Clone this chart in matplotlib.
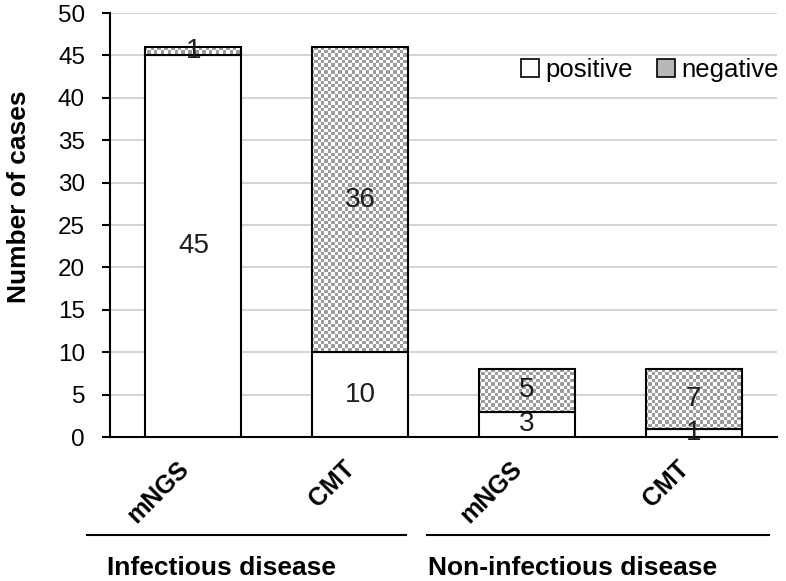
import numpy as np
import matplotlib
matplotlib.use("Agg")
import matplotlib.pyplot as plt
from matplotlib.patches import Patch
from matplotlib import transforms

# ---------------- data ----------------
categories = ["mNGS", "CMT", "mNGS", "CMT"]
positive = [45, 10, 3, 1]
negative = [1, 36, 5, 7]
groups = ["Infectious disease", "Non-infectious disease"]
yticks = list(range(0, 51, 5))

plt.rcParams["font.family"] = ["Liberation Sans", "DejaVu Sans"]
plt.rcParams["font.size"] = 13

fig = plt.figure(figsize=(7.86, 5.81), dpi=100)
ax = fig.add_axes([0.140, 0.2478, 0.8485, 0.7298])

x = np.arange(len(categories))
width = 0.576

ax.set_xlim(-0.5, 3.5)
ax.set_ylim(0, 50)

# grid
ax.set_yticks(yticks)
ax.yaxis.grid(True, color="#d4d4d4", lw=1.4)
ax.set_axisbelow(True)

bars_pos = ax.bar(x, positive, width, facecolor="white", edgecolor="black", lw=1.5, zorder=3)
bars_neg = ax.bar(x, negative, width, bottom=positive, facecolor="none",
                  edgecolor="black", lw=1.5, zorder=4)

# checkerboard fill for the negative segments
cell = 3.4  # pixels
ax_w_px = 0.8485 * 786
ax_h_px = 0.7298 * 581
nx = int(ax_w_px / cell)
ny = int(ax_h_px / cell)
board = (np.add.outer(np.arange(ny), np.arange(nx)) % 2).astype(float)
for b in bars_neg:
    im = ax.imshow(board, cmap="gray", vmin=-1.6, vmax=1.0, extent=(-0.5, 3.5, 0, 50),
                   aspect="auto", interpolation="nearest", zorder=3.5)
    im.set_clip_path(b)
ax.set_xlim(-0.5, 3.5)
ax.set_ylim(0, 50)
ax.set_aspect("auto")

# value labels
for i in range(len(categories)):
    ax.text(x[i], positive[i] / 2, str(positive[i]), ha="center", va="center",
            fontsize=20, color="#1e1e1e", zorder=6)
    ax.text(x[i], positive[i] + negative[i] / 2, str(negative[i]), ha="center",
            va="center", fontsize=20, color="#1e1e1e", zorder=6)

# axes styling
for s in ["top", "right"]:
    ax.spines[s].set_visible(False)
ax.spines["left"].set_linewidth(1.5)
ax.spines["bottom"].set_linewidth(1.5)
ax.tick_params(axis="y", direction="out", length=6, width=1.5, labelsize=17.5, pad=12)
ax.tick_params(axis="x", length=0, pad=14)
ax.set_xticks(x)
ax.set_xticklabels(categories, rotation=45, ha="right", va="top", fontweight="bold",
                   fontsize=18)

ax.set_ylabel("Number of cases", fontsize=19, fontweight="bold")
ax.yaxis.set_label_coords(-0.119, 0.566)

# legend
handles = [Patch(facecolor="white", edgecolor="black", lw=1.2, label="positive"),
           Patch(facecolor="#b8b8b8", edgecolor="black", lw=1.2, label="negative")]
ax.legend(handles=handles, loc="center right", bbox_to_anchor=(1.03, 0.866), ncol=2,
          frameon=False, fontsize=18.5, handlelength=0.7, handleheight=0.7,
          handletextpad=0.25, columnspacing=0.95, borderpad=0.2)

# group lines and labels under the axis
trans = transforms.blended_transform_factory(ax.transData, ax.transAxes)
group_spans = [(-0.638, 1.275), (1.401, 3.452)]
for (x0, x1), g in zip(group_spans, groups):
    ax.plot([x0, x1], [-0.231, -0.231], color="black", lw=1.5, transform=trans, clip_on=False)
    ax.text((x0 + x1) / 2 - 0.15, -0.309, g, transform=trans, ha="center", va="center",
            fontsize=19, fontweight="bold")

fig.savefig("out.png", dpi=100)
